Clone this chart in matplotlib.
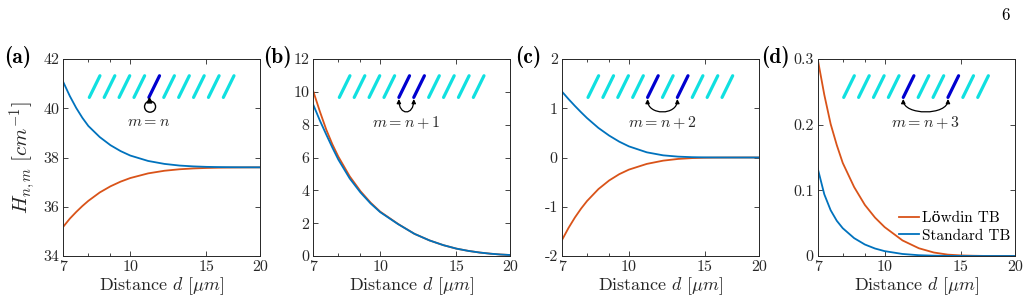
import matplotlib
matplotlib.use("Agg")
import matplotlib.pyplot as plt
from matplotlib.patches import Circle, FancyArrowPatch
from matplotlib.path import Path
from matplotlib.ticker import FixedLocator, NullFormatter

plt.rcParams["font.family"] = "serif"
plt.rcParams["font.serif"] = ["cmr10", "DejaVu Serif"]
plt.rcParams["mathtext.fontset"] = "cm"
plt.rcParams["axes.unicode_minus"] = False
plt.rcParams["axes.formatter.use_mathtext"] = True

# distancia d em micrometros
distance = [7, 7.25, 7.5, 7.75, 8, 8.5, 9, 9.5, 10, 11, 12, 13, 14, 15, 16, 17, 18, 19, 20]

# (a) m = n
a_lowdin = [35.19, 35.52, 35.79, 36.03, 36.24, 36.58, 36.83, 37.02, 37.165, 37.355, 37.462,
            37.522, 37.556, 37.575, 37.586, 37.592, 37.596, 37.598, 37.599]
a_standard = [41.06, 40.49, 40.01, 39.61, 39.28, 38.83, 38.50, 38.26, 38.08, 37.86, 37.74,
              37.673, 37.639, 37.62, 37.611, 37.606, 37.603, 37.602, 37.601]
# (b) m = n+1
b_lowdin = [10.03, 8.8, 7.7, 6.8, 6.05, 4.85, 3.95, 3.25, 2.7, 1.95, 1.35, 0.95, 0.66,
            0.45, 0.31, 0.21, 0.14, 0.09, 0.06]
b_standard = [9.21, 8.25, 7.4, 6.6, 5.87, 4.72, 3.87, 3.2, 2.67, 1.94, 1.35, 0.95, 0.66,
              0.45, 0.31, 0.21, 0.14, 0.09, 0.06]
# (c) m = n+2
c_lowdin = [-1.675, -1.428, -1.217, -1.037, -0.883, -0.641, -0.466, -0.338, -0.246, -0.13,
            -0.064, -0.029, -0.012, -0.005, -0.002, -0.0008, -0.0003, -0.0001, 0.0]
c_standard = [1.337, 1.185, 1.046, 0.918, 0.80, 0.60, 0.445, 0.321, 0.226, 0.105, 0.044,
              0.0176, 0.0066, 0.0024, 0.0009, 0.0003, 0.0001, 0.0, 0.0]
# (d) m = n+3
d_lowdin = [0.30, 0.2456, 0.201, 0.1688, 0.1417, 0.105, 0.0778, 0.0585, 0.044, 0.0237, 0.0118,
            0.0053, 0.0021, 0.0009, 0.0004, 0.0001, 0.0, 0.0, 0.0]
d_standard = [0.1335, 0.094, 0.0697, 0.0536, 0.0423, 0.0272, 0.0175, 0.0114, 0.0074, 0.0031,
              0.0012, 0.0005, 0.0002, 0.0001, 0.0, 0.0, 0.0, 0.0, 0.0]

panel_labels = ["(a)", "(b)", "(c)", "(d)"]
inset_texts = [r"$m=n$", r"$m=n+1$", r"$m=n+2$", r"$m=n+3$"]
neighbour = [0, 1, 2, 3]
y_limits = [(34, 42), (0, 12), (-2, 2), (0, 0.3)]
y_ticks = [[34, 36, 38, 40, 42], [0, 2, 4, 6, 8, 10, 12], [-2, -1, 0, 1, 2], [0, 0.1, 0.2, 0.3]]
y_ticklabels = [["34", "36", "38", "40", "42"], ["0", "2", "4", "6", "8", "10", "12"],
                ["-2", "-1", "0", "1", "2"], ["0", "0.1", "0.2", "0.3"]]
x_ticks = [7, 10, 15, 20]
lowdin_series = [a_lowdin, b_lowdin, c_lowdin, d_lowdin]
standard_series = [a_standard, b_standard, c_standard, d_standard]

ORANGE = "#D95319"
BLUE = "#0072BD"
CYAN = "#10E0E0"
DARK = "#0000D0"
GREY = "#262626"

fig = plt.figure(figsize=(10.29, 3.08), dpi=100)
lefts = [63.3, 313.3, 562.0, 817.7]
label_x = [4, 263, 515, 761]

for i in range(4):
    ax = fig.add_axes([lefts[i] / 1029, 1 - 256 / 308, 197 / 1029, 197 / 308])
    ax.plot(distance, lowdin_series[i], color=ORANGE, lw=1.3, label="Löwdin TB")
    ax.plot(distance, standard_series[i], color=BLUE, lw=1.3, label="Standard TB")
    ax.set_xscale("log")
    ax.set_xlim(7, 20)
    ax.set_ylim(*y_limits[i])
    ax.xaxis.set_major_locator(FixedLocator(x_ticks))
    ax.set_xticklabels([str(t) for t in x_ticks])
    ax.xaxis.set_minor_locator(FixedLocator([8, 9]))
    ax.xaxis.set_minor_formatter(NullFormatter())
    ax.set_yticks(y_ticks[i])
    ax.set_yticklabels(y_ticklabels[i])
    ax.tick_params(which="both", direction="in", top=True, right=True, colors=GREY,
                   labelsize=11.5, width=0.6, pad=3)
    ax.tick_params(which="major", length=3.5)
    ax.tick_params(which="minor", length=2.5)
    for s in ax.spines.values():
        s.set_color(GREY)
        s.set_linewidth(0.7)
    ax.set_xlabel(r"Distance $d\ [\mu m]$", fontsize=13, color=GREY, labelpad=1)

    # desenho das cadeias inclinadas
    x0, step = 0.132, 0.0756
    hi = [4, 4 + neighbour[i]]
    for k in range(10):
        xb = x0 + k * step
        ax.plot([xb, xb + 0.054], [0.805, 0.915], transform=ax.transAxes,
                color=DARK if k in hi else CYAN, lw=2.3, solid_capstyle="round", clip_on=False)
    xa = x0 + 4 * step
    if neighbour[i] == 0:
        ax.add_patch(Circle((xa + 0.006, 0.758), 0.028, transform=ax.transAxes,
                            fill=False, lw=1.0, color="k"))
        ax.plot(xa + 0.003, 0.79, marker="^", ms=3.5, color="k", transform=ax.transAxes)
    else:
        xb = x0 + (4 + neighbour[i]) * step
        h = 0.085
        p = Path([(xa, 0.797), (xa, 0.797 - h), (xb, 0.797 - h), (xb, 0.797)],
                 [Path.MOVETO, Path.CURVE4, Path.CURVE4, Path.CURVE4])
        ax.add_patch(FancyArrowPatch(path=p, transform=ax.transAxes, arrowstyle="<|-|>",
                                     mutation_scale=6, lw=0.9, color="k"))
    xm = xa + neighbour[i] * step / 2
    ax.text(xm, 0.678, inset_texts[i], transform=ax.transAxes, ha="center", va="center",
            fontsize=11.5, color=GREY)

    fig.text(label_x[i] / 1029, 1 - 57 / 308, panel_labels[i], family="cmb10",
             fontsize=15.5, ha="left", va="center")

    if i == 0:
        ax.set_ylabel(r"$H_{n,m}\ [cm^{-1}]$", fontsize=15, color=GREY, labelpad=3)
    if i == 3:
        ax.legend(loc="lower right", bbox_to_anchor=(1.0, 0.045), frameon=False,
                  handlelength=1.3, handletextpad=0.2, labelspacing=0.25,
                  borderaxespad=0.0, borderpad=0.3,
                  prop={"family": ["cmr10", "DejaVu Serif"], "size": 11})

fig.text(1005 / 1029, 1 - 15 / 308, "6", fontsize=12, ha="center", va="center")

fig.savefig("out.png", dpi=100)
